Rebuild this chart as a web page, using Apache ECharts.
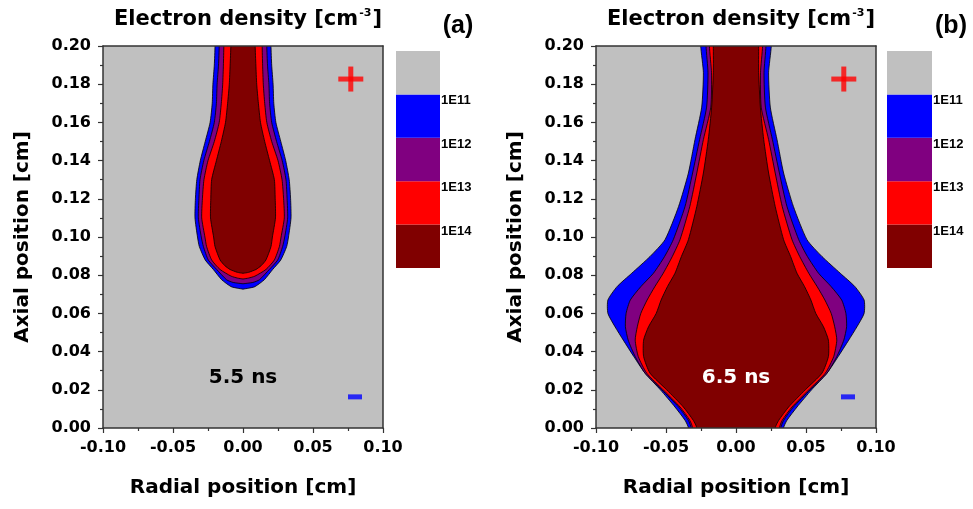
<!DOCTYPE html>
<html>
<head>
<meta charset="utf-8">
<script src="https://cdn.jsdelivr.net/npm/echarts@6/dist/echarts.min.js"></script>
<style>
html,body{margin:0;padding:0;background:#fff}
#chart{width:973px;height:509px}
</style>
</head>
<body>
<div id="chart"></div>
<script>
// density levels (outer -> inner)
const levelNames = ['1E11', '1E12', '1E13', '1E14'];
const levelColors = ['#0000ff', '#800080', '#ff0000', '#800000'];
const bgColor = '#c0c0c0';

// contour half widths [axial position, half width] in cm, panel (a) 5.5 ns
const a1E11 = [[0.20,0.020],[0.19,0.0205],[0.18,0.0215],[0.17,0.022],[0.16,0.0235],[0.15,0.027],[0.14,0.0305],[0.13,0.033],[0.12,0.034],[0.11,0.0343],[0.10,0.0325],[0.095,0.0312],[0.088,0.027],[0.083,0.0212],[0.0776,0.0152],[0.074,0.0085],[0.0732,0.004],[0.0727,0]];
const a1E12 = [[0.20,0.017],[0.19,0.0175],[0.18,0.0185],[0.17,0.019],[0.16,0.0205],[0.15,0.024],[0.14,0.028],[0.13,0.0307],[0.12,0.0315],[0.11,0.0319],[0.10,0.0298],[0.095,0.0283],[0.088,0.0248],[0.083,0.0188],[0.0776,0.0117],[0.0762,0.007],[0.0755,0]];
const a1E13 = [[0.20,0.0137],[0.19,0.014],[0.18,0.0145],[0.17,0.0155],[0.16,0.017],[0.15,0.0205],[0.14,0.025],[0.13,0.0279],[0.12,0.029],[0.11,0.0295],[0.10,0.0272],[0.095,0.026],[0.088,0.0224],[0.083,0.0164],[0.0795,0.0085],[0.0785,0.004],[0.078,0]];
const a1E14 = [[0.20,0.0087],[0.19,0.0092],[0.18,0.0098],[0.17,0.011],[0.16,0.0125],[0.15,0.0155],[0.14,0.019],[0.13,0.0224],[0.12,0.023],[0.11,0.0232],[0.10,0.021],[0.095,0.02],[0.088,0.0164],[0.085,0.013],[0.083,0.0093],[0.0815,0.004],[0.081,0]];

// panel (b) 6.5 ns
const b1E11 = [[0.20,0.0252],[0.186,0.0233],[0.168,0.0245],[0.151,0.0293],[0.1335,0.034],[0.116,0.041],[0.0986,0.0507],[0.0898,0.0614],[0.081,0.0745],[0.074,0.085],[0.067,0.0915],[0.060,0.0915],[0.053,0.0864],[0.046,0.0805],[0.0374,0.073],[0.0287,0.065],[0.020,0.054],[0.011,0.0436],[0.004,0.0364],[0,0.034]];
const b1E12 = [[0.20,0.0214],[0.186,0.020],[0.168,0.021],[0.151,0.026],[0.1335,0.031],[0.116,0.0364],[0.0986,0.0448],[0.0898,0.051],[0.081,0.059],[0.074,0.068],[0.067,0.0755],[0.060,0.0785],[0.053,0.079],[0.046,0.077],[0.0374,0.072],[0.0287,0.065],[0.020,0.053],[0.011,0.041],[0.004,0.034],[0,0.032]];
const b1E13 = [[0.20,0.019],[0.186,0.0175],[0.168,0.018],[0.151,0.0233],[0.1335,0.028],[0.116,0.033],[0.0986,0.040],[0.0898,0.0455],[0.081,0.052],[0.074,0.058],[0.067,0.0635],[0.060,0.068],[0.053,0.0705],[0.046,0.072],[0.0374,0.0698],[0.0287,0.0638],[0.020,0.052],[0.011,0.040],[0.004,0.033],[0,0.031]];
const b1E14 = [[0.20,0.0162],[0.186,0.0162],[0.168,0.0174],[0.151,0.0198],[0.1335,0.0233],[0.116,0.028],[0.0986,0.034],[0.0898,0.039],[0.081,0.0436],[0.074,0.049],[0.067,0.0535],[0.060,0.057],[0.053,0.0625],[0.046,0.066],[0.0374,0.066],[0.0287,0.0614],[0.020,0.0495],[0.011,0.0376],[0.004,0.0305],[0,0.028]];

const panelTimes = ['5.5 ns', '6.5 ns'];
const panelTags = ['(a)', '(b)'];

const chart = echarts.init(document.getElementById('chart'));

const FONT = 'DejaVu Sans';
const plotGrids = [
    {left: 103, top: 46, width: 280, height: 382},
    {left: 596, top: 46, width: 280, height: 382}
];
const barGrids = [
    {left: 396, top: 51, width: 44, height: 217},
    {left: 887, top: 51, width: 45, height: 217}
];

function contourSeries(profiles, idx) {
    return {
        type: 'custom',
        xAxisIndex: idx * 2,
        yAxisIndex: idx * 2,
        clip: true,
        z: 3,
        silent: true,
        data: profiles.map((p, i) => [0, 0.1, i]),
        renderItem: function (params, api) {
            const lvl = api.value(2);
            let prof = profiles[lvl].slice();
            // stretch past the plot edges so the cut is clean
            prof.unshift([prof[0][0] + 0.02, prof[0][1]]);
            const last = prof[prof.length - 1];
            if (last[1] > 0) prof.push([last[0] - 0.02, last[1]]);
            const left = prof.map(([y, w]) => api.coord([-w, y]));
            const right = prof.slice().reverse().map(([y, w]) => api.coord([w, y]));
            return {
                type: 'polygon',
                shape: {points: left.concat(right), smooth: 0.2},
                style: {fill: levelColors[lvl], stroke: '#000', lineWidth: 0.8}
            };
        }
    };
}

const grids = [], xAxes = [], yAxes = [], series = [], graphics = [];

[0, 1].forEach(function (p) {
    const g = plotGrids[p];
    grids.push(Object.assign({show: true, backgroundColor: bgColor, borderWidth: 0}, g));
    grids.push(Object.assign({show: false}, barGrids[p]));
});

[0, 1].forEach(function (p) {
    // main x / y axes
    xAxes.push({
        gridIndex: p * 2, type: 'value', min: -0.10, max: 0.10, interval: 0.05, z: 5,
        name: 'Radial position [cm]', nameLocation: 'middle', nameGap: 50,
        nameTextStyle: {fontFamily: FONT, fontWeight: 'bold', fontSize: 20, color: '#000'},
        axisLine: {show: true, onZero: false, lineStyle: {color: '#333', width: 1.5}},
        axisTick: {show: true, length: 5, lineStyle: {color: '#333', width: 1.2}},
        minorTick: {show: true, splitNumber: 2, length: 3, lineStyle: {color: '#333', width: 1.2}},
        axisLabel: {margin: 12, fontFamily: FONT, fontWeight: 'bold', fontSize: 16, color: '#000',
            formatter: v => v.toFixed(2)},
        splitLine: {show: false}
    });
    xAxes.push({
        gridIndex: p * 2 + 1, type: 'category', data: ['c'], show: false
    });
    yAxes.push({
        gridIndex: p * 2, type: 'value', min: 0, max: 0.20, interval: 0.02, z: 5,
        name: 'Axial position [cm]', nameLocation: 'middle', nameGap: 70,
        nameTextStyle: {fontFamily: FONT, fontWeight: 'bold', fontSize: 20, color: '#000'},
        axisLine: {show: true, onZero: false, lineStyle: {color: '#333', width: 1.5}},
        axisTick: {show: true, length: 5, lineStyle: {color: '#333', width: 1.2}},
        minorTick: {show: true, splitNumber: 2, length: 3, lineStyle: {color: '#333', width: 1.2}},
        axisLabel: {margin: 12, fontFamily: FONT, fontWeight: 'bold', fontSize: 16, color: '#000',
            formatter: v => v.toFixed(2)},
        splitLine: {show: false}
    });
    // colour bar axis
    yAxes.push({
        gridIndex: p * 2 + 1, type: 'value', min: 0, max: 5, interval: 1, position: 'right',
        axisLine: {show: false}, axisTick: {show: false}, splitLine: {show: false},
        axisLabel: {margin: 1, verticalAlign: 'top', fontFamily: 'Liberation Sans', fontWeight: 'bold',
            fontSize: 13, color: '#000',
            formatter: v => (v >= 1 && v <= 4) ? levelNames[4 - v] : ''}
    });
});

// extra top/right frame lines drawn with the axes (on top of the contours)
[0, 1].forEach(function (p) {
    xAxes.push({gridIndex: p * 2, type: 'value', position: 'top', min: -0.1, max: 0.1, z: 5,
        axisLine: {show: true, onZero: false, lineStyle: {color: '#333', width: 1.5}},
        axisTick: {show: false}, axisLabel: {show: false}, splitLine: {show: false}});
    yAxes.push({gridIndex: p * 2, type: 'value', position: 'right', min: 0, max: 0.2, z: 5,
        axisLine: {show: true, onZero: false, lineStyle: {color: '#333', width: 1.5}},
        axisTick: {show: false}, axisLabel: {show: false}, splitLine: {show: false}});
});

series.push(contourSeries([a1E11, a1E12, a1E13, a1E14], 0));
series.push(contourSeries([b1E11, b1E12, b1E13, b1E14], 1));

// colour bars, bottom to top: 1E14 .. 1E11 then background
[0, 1].forEach(function (p) {
    const cols = levelColors.slice().reverse().concat([bgColor]);
    cols.forEach(function (c, i) {
        series.push({
            type: 'bar', xAxisIndex: p * 2 + 1, yAxisIndex: p * 2 + 1, stack: 'cb' + p,
            data: [1], barWidth: '100%', itemStyle: {color: c}, silent: true
        });
    });
});

// polarity markers
[0, 1].forEach(function (p) {
    series.push({
        type: 'scatter', xAxisIndex: p * 2, yAxisIndex: p * 2, z: 4, silent: true,
        data: [
            {value: [0.077, 0.1827], symbol: 'rect', symbolSize: [25, 5], itemStyle: {color: '#ff0000'}},
            {value: [0.077, 0.1827], symbol: 'rect', symbolSize: [5, 25], itemStyle: {color: '#ff0000'}},
            {value: [0.080, 0.0163], symbol: 'rect', symbolSize: [14, 5], itemStyle: {color: '#0000ff'}}
        ]
    });
});

// title pieces measured so the superscript can sit above the line
const measureCtx = document.createElement('canvas').getContext('2d');
function textWidth(str, font) {
    measureCtx.font = font;
    return measureCtx.measureText(str).width;
}
const titleMain = 'Electron density [cm';
const titleSup = '-3';
const mainFont = 'bold 21px "DejaVu Sans"';
const supFont = 'bold 11px "DejaVu Sans"';
const wMain = textWidth(titleMain, mainFont);
const wSup = textWidth(titleSup, supFont);
const wEnd = textWidth(']', mainFont);

[0, 1].forEach(function (p) {
    const g = plotGrids[p];
    const cx = g.left + g.width / 2;
    const x0 = cx + 5 - (wMain + wSup + 2 + wEnd) / 2;
    graphics.push({
        type: 'text', x: x0, y: 20, z: 10,
        style: {text: titleMain, font: mainFont, fill: '#000', align: 'left', verticalAlign: 'middle'}
    });
    graphics.push({
        type: 'text', x: x0 + wMain + 1, y: 13, z: 10,
        style: {text: titleSup, font: supFont, fill: '#000', align: 'left', verticalAlign: 'middle'}
    });
    graphics.push({
        type: 'text', x: x0 + wMain + wSup + 2, y: 20, z: 10,
        style: {text: ']', font: mainFont, fill: '#000', align: 'left', verticalAlign: 'middle'}
    });
    graphics.push({
        type: 'text', x: g.left + g.width + 75, y: 26, z: 10,
        style: {text: panelTags[p], fontFamily: 'Liberation Sans', fontWeight: 'bold', fontSize: 25,
            fill: '#000', align: 'center', verticalAlign: 'middle'}
    });
    graphics.push({
        type: 'text', x: cx, y: 378, z: 10,
        style: {text: panelTimes[p], fontFamily: FONT, fontWeight: 'bold', fontSize: 20,
            fill: p === 0 ? '#000' : '#fff', align: 'center', verticalAlign: 'middle'}
    });
});

chart.setOption({
    backgroundColor: '#fff',
    animation: false,
    grid: grids,
    xAxis: xAxes,
    yAxis: yAxes,
    series: series,
    graphic: graphics
});
</script>
</body>
</html>
